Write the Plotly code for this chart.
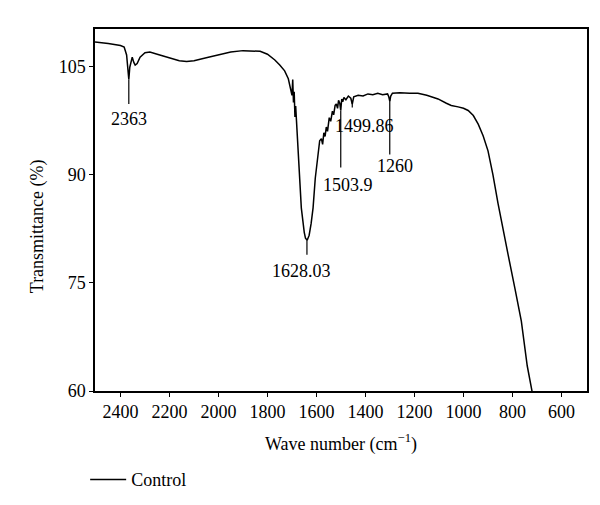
import plotly.graph_objects as go

# Spectrum data
wavenumber = [2504, 2450, 2400, 2385, 2375, 2370, 2366, 2362, 2357, 2352, 2346, 2340, 2332,
              2320, 2300, 2280, 2250, 2200, 2160, 2130, 2100, 2050, 2000, 1950, 1900, 1860,
              1830, 1800, 1770, 1750, 1730, 1715, 1705, 1700, 1697, 1694, 1691, 1688, 1685,
              1680, 1670, 1662, 1650, 1645, 1638, 1630, 1622, 1614, 1605, 1595, 1587, 1580,
              1575, 1570, 1565, 1560, 1555, 1548, 1542, 1535, 1530, 1524, 1519, 1514, 1510,
              1505, 1501, 1497, 1493, 1488, 1480, 1470, 1460, 1454, 1448, 1430, 1410, 1390,
              1370, 1350, 1330, 1310, 1305, 1301, 1297, 1290, 1260, 1220, 1186, 1150, 1104,
              1070, 1050, 1022, 1000, 981, 960, 940, 920, 900, 880, 859, 840, 818, 790, 764,
              740, 723, 715]
transmittance = [108.4, 108.2, 107.9, 107.7, 106.6, 104.8, 103.2, 104.9, 105.6, 106.3, 105.6,
                 105.2, 105.4, 106.3, 106.9, 107.0, 106.7, 106.2, 105.8, 105.7, 105.8, 106.2,
                 106.6, 107.0, 107.2, 107.2, 107.1, 106.7, 105.9, 105.2, 104.4, 103.3, 102.0,
                 101.0, 103.2, 100.0, 101.5, 98.0, 99.5, 96.0, 90.5, 85.4, 82.0, 81.2, 80.9,
                 81.6, 83.2, 85.4, 89.5, 92.8, 94.7, 95.0, 94.2, 95.8, 95.3, 96.6, 96.0, 97.9,
                 97.4, 98.8, 98.3, 99.6, 99.8, 99.2, 100.3, 99.9, 98.9, 100.5, 100.1, 100.7,
                 100.4, 100.9, 100.6, 99.8, 100.8, 101.0, 100.9, 101.2, 101.1, 101.3, 101.1,
                 101.2, 100.8, 100.2, 100.9, 101.3, 101.35, 101.3, 101.3, 101.0, 100.5, 99.9,
                 99.6, 99.4, 99.2, 98.9, 98.2, 97.0, 95.4, 93.3, 90.0, 86.0, 82.6, 78.9, 74.2,
                 69.7, 63.5, 60.4, 59.0]

x_ticks = [2400, 2200, 2000, 1800, 1600, 1400, 1200, 1000, 800, 600]
y_ticks = [60, 75, 90, 105]

# Peak labels: text, leader x, leader top y, leader bottom y, label x, label y
peak_labels = ["2363", "1628.03", "1503.9", "1499.86", "1260"]
peak_leader_x = [2366, 1639, 1501, 1454, 1301]
peak_leader_y0 = [103.2, 80.9, 98.9, 100.2, 100.5]
peak_leader_y1 = [99.8, 78.9, 91.0, 99.3, 92.8]
peak_label_x = [2366, 1661, 1471, 1403, 1281]
peak_label_y = [97.7, 76.6, 88.5, 96.8, 91.2]

FONT = "Liberation Serif"
FS = 18

fig = go.Figure()
fig.add_trace(go.Scatter(x=wavenumber, y=transmittance, mode="lines", name="Control",
                         line=dict(color="black", width=1.5)))

for i, t in enumerate(peak_labels):
    fig.add_shape(type="line", xref="x", yref="y",
                  x0=peak_leader_x[i], x1=peak_leader_x[i],
                  y0=peak_leader_y0[i], y1=peak_leader_y1[i],
                  line=dict(color="black", width=1.2))
    fig.add_annotation(x=peak_label_x[i], y=peak_label_y[i], xref="x", yref="y",
                       text=t, showarrow=False, font=dict(family=FONT, size=FS, color="black"))

fig.add_annotation(xref="paper", yref="paper", x=-0.118, y=0.455, text="Transmittance (%)",
                   textangle=-90, showarrow=False, xanchor="center", yanchor="middle",
                   font=dict(family=FONT, size=FS, color="black"))

fig.update_layout(
    width=600, height=505,
    margin=dict(l=87, r=21, t=21, b=122),
    plot_bgcolor="white", paper_bgcolor="white",
    font=dict(family=FONT, size=FS, color="black"),
    showlegend=True,
    legend=dict(x=-0.02, y=-0.245, xanchor="left", yanchor="middle", itemwidth=36,
                font=dict(family=FONT, size=FS, color="black"), bgcolor="rgba(0,0,0,0)"),
    xaxis=dict(range=[2504, 496], tickvals=x_ticks, ticktext=[str(v) for v in x_ticks],
               showgrid=False, zeroline=False, showline=True, mirror=True,
               linecolor="black", linewidth=1.5, ticks="outside", ticklen=4,
               tickcolor="black", tickfont=dict(family=FONT, size=FS),
               title=dict(text="Wave number (cm<sup>−1</sup>)", standoff=16,
                          font=dict(family=FONT, size=FS))),
    yaxis=dict(range=[60, 110.2], tickvals=y_ticks, ticktext=[str(v) for v in y_ticks],
               showgrid=False, zeroline=False, showline=True, mirror=True,
               linecolor="black", linewidth=1.5, ticks="outside", ticklen=4,
               tickcolor="black", tickfont=dict(family=FONT, size=FS)),
)

fig.write_html("out.html")
